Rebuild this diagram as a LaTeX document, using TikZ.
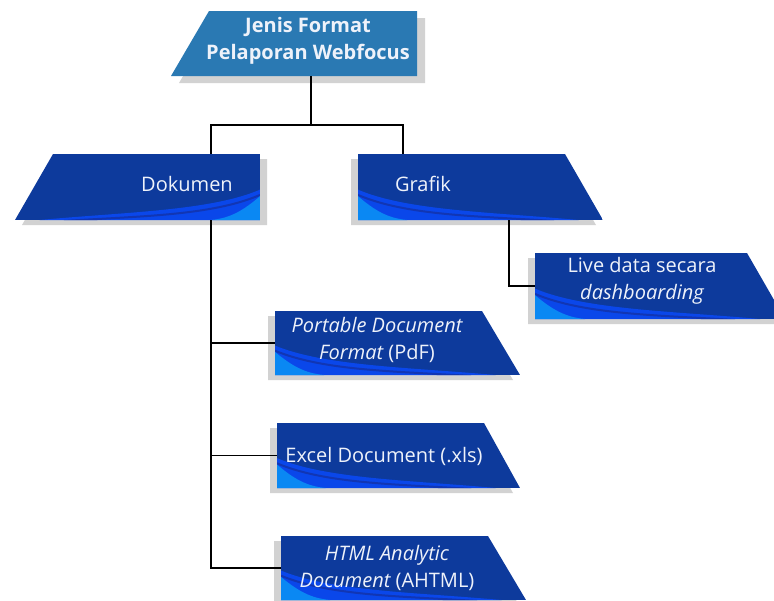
\documentclass[tikz,border=0pt]{standalone}
\usepackage{fontspec}
\setmainfont{Open Sans}
\usetikzlibrary{fit}
\definecolor{navy}{HTML}{0D3A9C}
\definecolor{navytwo}{HTML}{1136B4}
\definecolor{brightb}{HTML}{0A47EA}
\definecolor{lightb}{HTML}{0A88F3}
\definecolor{topblue}{HTML}{2A79B3}
\definecolor{shd}{HTML}{D2D2D2}
\definecolor{txt}{HTML}{EEF2FA}
\newcommand\wshape[5]{%
\pgfmathsetmacro\ww{#4-#1}\pgfmathsetmacro\hh{#5-#2}%
\fill[shd] (#1-7,#2+5) -- (#3-7,#2+5) -- (#4-7,#5+5) -- (#1-7,#5+5) -- cycle;
\begin{scope}
\clip (#1,#2) -- (#3,#2) -- (#4,#5) -- (#1,#5) -- cycle;
\fill[navy] (#1,#2) rectangle (#4,#5);
\fill[brightb] (#1,#2+0.54*\hh) .. controls (#1+0.2*\ww,#5-0.14*\hh) and (#1+0.55*\ww,#5-0.12*\hh) .. (#1+0.9*\ww,#5) -- (#1,#5) -- cycle;
\draw[navytwo, line width=1.5] (#1,#2+0.62*\hh) .. controls (#1+0.2*\ww,#5-0.06*\hh) and (#1+0.5*\ww,#5-0.06*\hh) .. (#1+0.8*\ww,#5+1);
\fill[lightb] (#1,#2+0.64*\hh) .. controls (#1+0.07*\ww,#5-0.14*\hh) and (#1+0.12*\ww,#5-0.03*\hh) .. (#1+0.2*\ww,#5) -- (#1,#5) -- cycle;
\end{scope}}
\tikzset{
  conn/.style={draw=black, line width=1.1pt},
  lbl/.style={text=txt, align=center, inner sep=0pt, font=\fontsize{15}{20}\selectfont},
  box/.style={inner sep=0pt, draw=none}
}
\begin{document}
\begin{tikzpicture}[x=0.75pt, y=-0.75pt]
\useasboundingbox (0,0) rectangle (774,600);
% top node
\fill[shd] (209+8,11+7) -- (417+8,11+7) -- (417+8,76+7) -- (171+8,76+7) -- cycle;
\fill[topblue] (209,11) -- (417,11) -- (417,76) -- (171,76) -- cycle;
% shapes
\begin{scope}[xscale=-1]
\wshape{-260}{154}{-53}{-15}{220}
\end{scope}
\wshape{358}{154}{565}{603}{220}
\wshape{535}{253}{747}{785}{319}
\wshape{275}{311}{482}{520}{375}
\wshape{277}{423}{484}{520}{488}
\wshape{281}{536}{488}{526}{600}
% named boxes
\node[box, fit={(171,11) (417,76)}] (top) {};
\node[box, fit={(15,154) (260,220)}] (dok) {};
\node[box, fit={(358,154) (603,220)}] (gra) {};
\node[box, fit={(535,253) (774,319)}] (live) {};
\node[box, fit={(275,311) (520,375)}] (pdf) {};
\node[box, fit={(277,423) (520,488)}] (xls) {};
\node[box, fit={(281,536) (526,600)}] (html) {};
% labels
\node[lbl, font=\fontsize{15}{20}\selectfont\bfseries] (top-t) at (308,41) {Jenis Format\\Pelaporan Webfocus};
\node[lbl] (dok-t) at (187,184) {Dokumen};
\node[lbl] (gra-t) at (423,184) {Grafik};
\node[lbl] (live-t) at (642,281) {Live data secara\\\itshape dashboarding};
\node[lbl] (pdf-t) at (377,340) {\itshape Portable Document\\\itshape Format\upshape{} (PdF)};
\node[lbl] (xls-t) at (384,456) {Excel Document (.xls)};
\node[lbl] (html-t) at (387,568) {\itshape HTML Analytic\\\itshape Document\upshape{} (AHTML)};
% connectors
\coordinate (hub) at (311,125);
\coordinate (dokx) at (211,0);
\coordinate (grx) at (403,0);
\coordinate (grx2) at (509,0);
\draw[conn] (hub |- top.south) -- (hub);
\draw[conn] (dokx |- dok.north) |- (grx |- hub) -- (grx |- gra.north);
\draw[conn] (dokx |- dok.south) |- (html.west);
\draw[conn] (dokx |- pdf.west) -- (pdf.west);
\draw[conn] (dokx |- xls.west) -- (xls.west);
\draw[conn] (grx2 |- gra.south) |- (live.west);
\end{tikzpicture}
\end{document}
